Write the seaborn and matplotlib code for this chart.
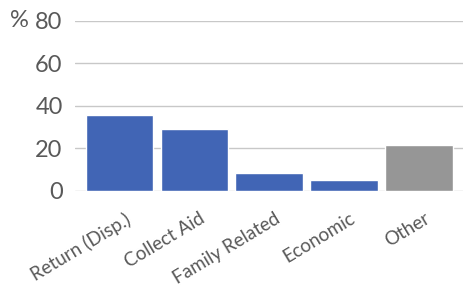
import matplotlib
matplotlib.use('Agg')
import matplotlib.pyplot as plt
import matplotlib.transforms as mtransforms
import seaborn as sns
import pandas as pd

categories = ['Return (Disp.)', 'Collect Aid', 'Family Related', 'Economic', 'Other']
values = [35.6, 29.0, 8.3, 5.0, 21.5]
bar_colors = ['#4165B5', '#4165B5', '#4165B5', '#4165B5', '#969696']
y_ticks = [0, 20, 40, 60, 80]

sns.set_theme(style='white')
plt.rcParams['font.family'] = ['Lato', 'DejaVu Sans']

df = pd.DataFrame({'category': categories, 'value': values})

fig = plt.figure(figsize=(4.64, 2.87), dpi=100)
ax = fig.add_axes([0.162, 0.336, 0.838, 0.591])

sns.barplot(data=df, x='category', y='value', hue='category', palette=bar_colors,
            width=0.9, saturation=1, legend=False, ax=ax, zorder=3)

ax.set_ylim(0, 80)
ax.set_xlim(-0.59, 4.6)
ax.set_yticks(y_ticks)
ax.yaxis.grid(True, color='#C8C8C8', linewidth=1.0, zorder=0)
ax.set_axisbelow(True)
for s in ax.spines.values():
    s.set_visible(False)
ax.set_xlabel('')
ax.set_ylabel('')
ax.tick_params(axis='y', length=0, pad=9, labelsize=17, labelcolor='#595959')
ax.tick_params(axis='x', length=0, pad=14, labelsize=13.5, labelcolor='#595959')

# shift the rotated labels a little right, like the original
shift = mtransforms.ScaledTranslation(0.05, 0, fig.dpi_scale_trans)
for lab in ax.get_xticklabels():
    lab.set_rotation(31)
    lab.set_ha('right')
    lab.set_rotation_mode('anchor')
    lab.set_transform(lab.get_transform() + shift)

ax.text(-0.143, 80, '%', transform=ax.get_yaxis_transform(), ha='center', va='center',
        fontsize=17, color='#595959')

fig.savefig('out.png', dpi=100)
